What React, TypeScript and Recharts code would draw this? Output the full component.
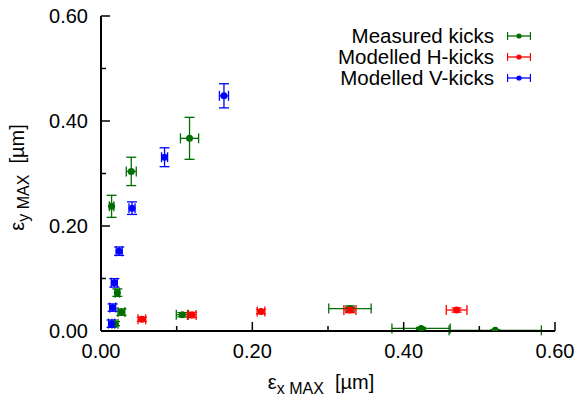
import { ErrorBar, Label, Legend, Scatter, ScatterChart, XAxis, YAxis } from "recharts";

// Axis ticks (every 0.1, labels every 0.2)
const AXIS_TICKS = [0, 0.1, 0.2, 0.3, 0.4, 0.5, 0.6];

// Measured kicks
const measuredX = [0.014, 0.04, 0.117, 0.0216, 0.027, 0.0185, 0.1075, 0.329, 0.423, 0.521];
const measuredY = [0.2375, 0.304, 0.367, 0.073, 0.036, 0.014, 0.031, 0.0427, 0.005, 0.0013];
const measuredXErr = [0.003, 0.0066, 0.012, 0.003, 0.0045, 0.004, 0.008, 0.028, 0.0385, 0.061];
const measuredYErr = [0.021, 0.027, 0.04, 0.007, 0.006, 0.004, 0.004, 0.005, 0.002, 0.001];

// Modelled H-kicks
const hKickX = [0.054, 0.12, 0.2115, 0.329, 0.47];
const hKickY = [0.0223, 0.0306, 0.037, 0.04, 0.04];
const hKickXErr = [0.005, 0.0057, 0.005, 0.008, 0.0137];
const hKickYErr = [0.004, 0.005, 0.004, 0.005, 0.004];

// Modelled V-kicks
const vKickX = [0.1625, 0.084, 0.041, 0.024, 0.0176, 0.0154, 0.014];
const vKickY = [0.448, 0.331, 0.234, 0.152, 0.0917, 0.0446, 0.014];
const vKickXErr = [0.006, 0.004, 0.004, 0.004, 0.004, 0.004, 0.004];
const vKickYErr = [0.023, 0.018, 0.012, 0.008, 0.008, 0.007, 0.007];

const SERIES_NAMES = ["Measured kicks", "Modelled H-kicks", "Modelled V-kicks"];
const SERIES_COLORS = ["#006e00", "#ff0000", "#0000ff"];

const FONT = "'Liberation Sans', Arial, Helvetica, sans-serif";

function toRows(xs: number[], ys: number[], xe: number[], ye: number[]) {
	return xs.map((x, i) => ({ x, y: ys[i], xErr: xe[i], yErr: ye[i] }));
}

const seriesData = [
	toRows(measuredX, measuredY, measuredXErr, measuredYErr),
	toRows(hKickX, hKickY, hKickXErr, hKickYErr),
	toRows(vKickX, vKickY, vKickXErr, vKickYErr),
];

const isMajor = (v: number) => Math.round(v * 10) % 2 === 0;

// gnuplot-like inward ticks
function makeTick(side: "bottom" | "top" | "left" | "right") {
	return (props: any) => {
		const { x, y, payload } = props;
		const v = payload.value as number;
		const len = isMajor(v) ? 9 : 5;
		let line;
		if (side === "bottom") line = <line x1={x} y1={y} x2={x} y2={y - len} />;
		else if (side === "top") line = <line x1={x} y1={y} x2={x} y2={y + len} />;
		else if (side === "left") line = <line x1={x} y1={y} x2={x + len} y2={y} />;
		else line = <line x1={x} y1={y} x2={x - len} y2={y} />;
		return (
			<g stroke="#000" strokeWidth={1.5}>
				{line}
				{side === "bottom" && isMajor(v) && (
					<text x={x} y={y + 27} textAnchor="middle" stroke="none" fill="#000" fontSize={20} fontFamily={FONT}>
						{v.toFixed(2)}
					</text>
				)}
				{side === "left" && isMajor(v) && (
					<text x={x - 13} y={y + 7} textAnchor="end" stroke="none" fill="#000" fontSize={20} fontFamily={FONT}>
						{v.toFixed(2)}
					</text>
				)}
			</g>
		);
	};
}

function XTitle(props: any) {
	const { x, y, width, height } = props.viewBox;
	return (
		<text x={x + width / 2 - 7} y={y + height - 9} textAnchor="middle" fill="#000" fontSize={20} fontFamily={FONT}>
			ε
			<tspan fontSize={16} dy={4.5}>
				x MAX
			</tspan>
			<tspan fontSize={20} dy={-4.5}>{"\u00a0\u00a0[µm]"}</tspan>
		</text>
	);
}

function YTitle(props: any) {
	const { y, height } = props.viewBox;
	const cx = 24;
	const cy = y + height / 2 + 4;
	return (
		<text
			x={cx}
			y={cy}
			transform={`rotate(-90, ${cx}, ${cy})`}
			textAnchor="middle"
			fill="#000"
			fontSize={20}
			fontFamily={FONT}
		>
			ε
			<tspan fontSize={16} dy={4.5}>
				y MAX
			</tspan>
			<tspan fontSize={20} dy={-4.5}>{"\u00a0\u00a0[µm]"}</tspan>
		</text>
	);
}

function LegendBox() {
	return (
		<div style={{ fontFamily: FONT, fontSize: 20.5, color: "#000" }}>
			{SERIES_NAMES.map((name, i) => (
				<div
					key={name}
					style={{ display: "flex", justifyContent: "flex-end", alignItems: "center", height: 21, lineHeight: "21px" }}
				>
					<span>{name}</span>
					<svg width={24} height={10} style={{ marginLeft: 13 }}>
						<g stroke={SERIES_COLORS[i]} strokeWidth={1.3}>
							<line x1={0.5} y1={5} x2={23.5} y2={5} />
							<line x1={0.5} y1={1} x2={0.5} y2={9} />
							<line x1={23.5} y1={1} x2={23.5} y2={9} />
						</g>
						<circle cx={12} cy={5} r={2.6} fill={SERIES_COLORS[i]} />
					</svg>
				</div>
			))}
		</div>
	);
}

export default function App() {
	return (
		<div style={{ position: "absolute", left: 0, top: 0, width: 578, height: 398, background: "#fff" }}>
			<ScatterChart width={578} height={398} margin={{ top: 16, right: 23, bottom: 0, left: 0 }}>
				<XAxis
					xAxisId={0}
					type="number"
					dataKey="x"
					domain={[0, 0.6]}
					ticks={AXIS_TICKS}
					interval={0}
					height={67}
					tickSize={0}
					tickMargin={0}
					tickLine={false}
					tick={makeTick("bottom")}
					axisLine={{ stroke: "#000", strokeWidth: 2 }}
					allowDataOverflow
				>
					<Label content={XTitle} />
				</XAxis>
				<XAxis
					xAxisId="top"
					orientation="top"
					type="number"
					domain={[0, 0.6]}
					ticks={AXIS_TICKS}
					interval={0}
					height={0}
					tickSize={0}
					tickMargin={0}
					tickLine={false}
					tick={makeTick("top")}
					axisLine={{ stroke: "#000", strokeWidth: 2 }}
				/>
				<YAxis
					yAxisId={0}
					type="number"
					dataKey="y"
					domain={[0, 0.6]}
					ticks={AXIS_TICKS}
					interval={0}
					width={101}
					tickSize={0}
					tickMargin={0}
					tickLine={false}
					tick={makeTick("left")}
					axisLine={{ stroke: "#000", strokeWidth: 2 }}
					allowDataOverflow
				>
					<Label content={YTitle} />
				</YAxis>
				<YAxis
					yAxisId="right"
					orientation="right"
					type="number"
					domain={[0, 0.6]}
					ticks={AXIS_TICKS}
					interval={0}
					width={0}
					tickSize={0}
					tickMargin={0}
					tickLine={false}
					tick={makeTick("right")}
					axisLine={{ stroke: "#000", strokeWidth: 2 }}
				/>
				<Legend
					layout="vertical"
					align="center"
					verticalAlign="middle"
					content={LegendBox}
					wrapperStyle={{ top: 25, right: 47, width: "auto" }}
				/>
				{seriesData.map((rows, i) => (
					<Scatter
						key={SERIES_NAMES[i]}
						name={SERIES_NAMES[i]}
						data={rows}
						fill={SERIES_COLORS[i]}
						isAnimationActive={false}
						shape={(p: any) => <circle cx={p.cx} cy={p.cy} r={3.5} fill={SERIES_COLORS[i]} />}
					>
						<ErrorBar dataKey="xErr" direction="x" width={5} stroke={SERIES_COLORS[i]} strokeWidth={1.3} isAnimationActive={false} />
						<ErrorBar dataKey="yErr" direction="y" width={5} stroke={SERIES_COLORS[i]} strokeWidth={1.3} isAnimationActive={false} />
					</Scatter>
				))}
			</ScatterChart>
		</div>
	);
}
